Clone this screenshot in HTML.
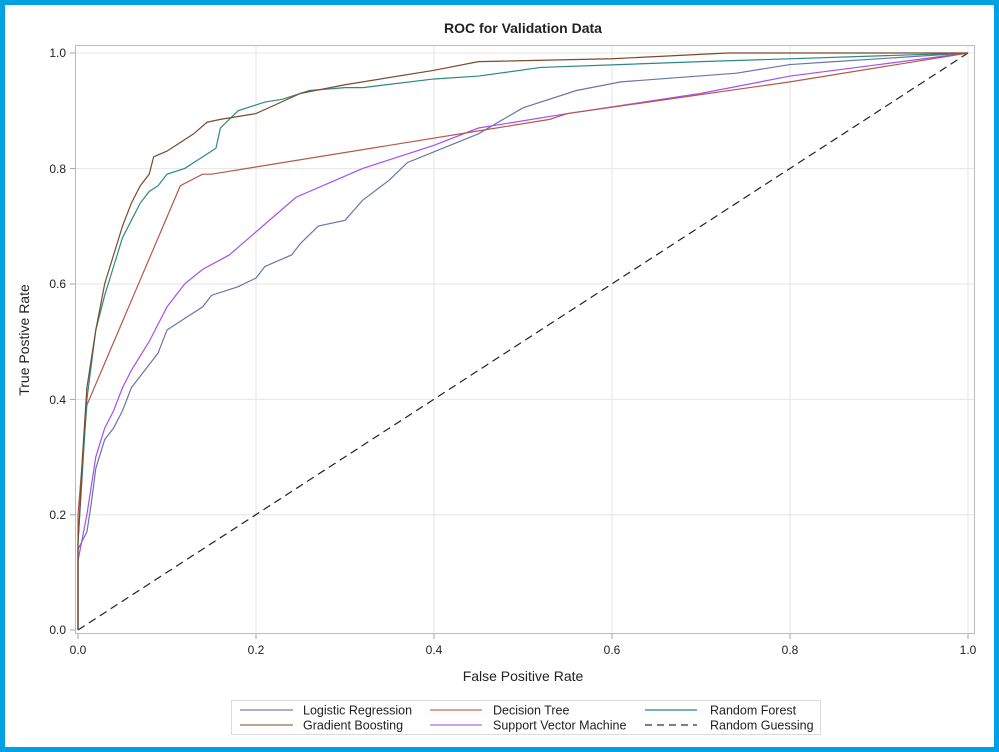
<!DOCTYPE html>
<html><head><style>
body{margin:0;background:#fff}
svg{display:block;font-family:"Liberation Sans",sans-serif}
</style></head><body>
<svg width="999" height="752" viewBox="0 0 999 752">
<rect x="2.5" y="2.5" width="994" height="747" fill="#fff" stroke="#00a1e4" stroke-width="5"/>
<text x="523" y="33" text-anchor="middle" font-size="14" font-weight="bold" fill="#222">ROC for Validation Data</text>
<g stroke="#e6e6e6" stroke-width="1">
<line x1="256" y1="45" x2="256" y2="633"/><line x1="434" y1="45" x2="434" y2="633"/><line x1="612" y1="45" x2="612" y2="633"/><line x1="790" y1="45" x2="790" y2="633"/><line x1="968" y1="45" x2="968" y2="633"/>
<line x1="75" y1="53" x2="975" y2="53"/><line x1="75" y1="168.6" x2="975" y2="168.6"/><line x1="75" y1="284" x2="975" y2="284"/><line x1="75" y1="399.4" x2="975" y2="399.4"/><line x1="75" y1="514.8" x2="975" y2="514.8"/>
</g>
<rect x="75.5" y="45.5" width="899" height="588" fill="none" stroke="#b8bcbf" stroke-width="1"/>
<g stroke="#a0a4a8">
<line x1="70" y1="53" x2="75" y2="53"/><line x1="70" y1="168.6" x2="75" y2="168.6"/><line x1="70" y1="284" x2="75" y2="284"/><line x1="70" y1="399.4" x2="75" y2="399.4"/><line x1="70" y1="514.8" x2="75" y2="514.8"/><line x1="70" y1="630" x2="75" y2="630"/>
<line x1="78" y1="634" x2="78" y2="639"/><line x1="256" y1="634" x2="256" y2="639"/><line x1="434" y1="634" x2="434" y2="639"/><line x1="612" y1="634" x2="612" y2="639"/><line x1="790" y1="634" x2="790" y2="639"/><line x1="968" y1="634" x2="968" y2="639"/>
</g>
<g font-size="12" fill="#222" text-anchor="end">
<text x="66" y="57">1.0</text><text x="66" y="173">0.8</text><text x="66" y="288">0.6</text><text x="66" y="404">0.4</text><text x="66" y="519">0.2</text><text x="66" y="634">0.0</text>
</g>
<g font-size="12" fill="#222" text-anchor="middle">
<text x="78" y="654">0.0</text><text x="256" y="654">0.2</text><text x="434" y="654">0.4</text><text x="612" y="654">0.6</text><text x="790" y="654">0.8</text><text x="968" y="654">1.0</text>
</g>
<text x="523" y="681" text-anchor="middle" font-size="14" fill="#222">False Positive Rate</text>
<text transform="translate(29,340) rotate(-90)" text-anchor="middle" font-size="14" fill="#222">True Postive Rate</text>
<g transform="translate(78,630) scale(890,-577)" fill="none" stroke-width="1.2">
<polyline vector-effect="non-scaling-stroke" stroke="#222" stroke-dasharray="8,5" points="0,0 1,1"/>
<polyline vector-effect="non-scaling-stroke" stroke="#6676a8" points="0,0 0,0.14 0.01,0.17 0.015,0.22 0.02,0.28 0.03,0.33 0.04,0.35 0.05,0.38 0.06,0.42 0.08,0.46 0.09,0.48 0.1,0.52 0.12,0.54 0.14,0.56 0.15,0.58 0.18,0.595 0.2,0.61 0.21,0.63 0.24,0.65 0.25,0.67 0.27,0.7 0.3,0.71 0.32,0.745 0.35,0.78 0.37,0.81 0.45,0.86 0.5,0.905 0.56,0.935 0.61,0.95 0.74,0.965 0.8,0.98 0.85,0.985 1,1"/>
<polyline vector-effect="non-scaling-stroke" stroke="#a64ff0" points="0,0 0,0.12 0.01,0.2 0.02,0.3 0.03,0.35 0.04,0.38 0.05,0.42 0.06,0.45 0.08,0.5 0.1,0.56 0.12,0.6 0.14,0.625 0.17,0.65 0.2,0.69 0.245,0.75 0.32,0.8 0.4,0.84 0.45,0.87 0.55,0.895 0.7,0.93 0.8,0.96 0.9,0.98 1,1"/>
<polyline vector-effect="non-scaling-stroke" stroke="#b6584a" points="0,0 0,0.2 0.01,0.39 0.115,0.77 0.14,0.79 0.15,0.79 0.45,0.865 0.53,0.885 0.55,0.895 0.8,0.95 1,1"/>
<polyline vector-effect="non-scaling-stroke" stroke="#2a8a80" points="0,0 0,0.15 0.01,0.4 0.02,0.52 0.03,0.58 0.04,0.63 0.05,0.68 0.06,0.71 0.07,0.74 0.08,0.76 0.09,0.77 0.1,0.79 0.12,0.8 0.13,0.81 0.14,0.82 0.155,0.835 0.16,0.87 0.18,0.9 0.2,0.91 0.21,0.915 0.23,0.92 0.26,0.935 0.3,0.94 0.32,0.94 0.4,0.955 0.45,0.96 0.52,0.975 0.7,0.985 1,1"/>
<polyline vector-effect="non-scaling-stroke" stroke="#7b4b2a" points="0,0 0,0.15 0.005,0.3 0.01,0.42 0.02,0.52 0.03,0.6 0.04,0.65 0.05,0.7 0.06,0.74 0.07,0.77 0.08,0.79 0.085,0.82 0.1,0.83 0.11,0.84 0.13,0.86 0.145,0.88 0.16,0.885 0.2,0.895 0.25,0.93 0.3,0.945 0.4,0.97 0.45,0.985 0.6,0.99 0.73,1 1,1"/>
</g>
<rect x="231.5" y="700.5" width="589" height="34" fill="#fff" stroke="#dcdcdc"/>
<g stroke-width="1.5">
<line x1="240" y1="710" x2="293" y2="710" stroke="#8a97c0"/>
<line x1="240" y1="725" x2="293" y2="725" stroke="#a0896c"/>
<line x1="430" y1="710" x2="482" y2="710" stroke="#d88070"/>
<line x1="430" y1="725" x2="482" y2="725" stroke="#c080f8"/>
<line x1="645" y1="710" x2="697" y2="710" stroke="#4a9a90"/>
<line x1="645" y1="725" x2="697" y2="725" stroke="#555" stroke-dasharray="7,5"/>
</g>
<g font-size="12.5" fill="#222">
<text x="303" y="714.5">Logistic Regression</text>
<text x="303" y="729.5">Gradient Boosting</text>
<text x="493" y="714.5">Decision Tree</text>
<text x="493" y="729.5">Support Vector Machine</text>
<text x="710" y="714.5">Random Forest</text>
<text x="710" y="729.5">Random Guessing</text>
</g>
</svg>
</body></html>
